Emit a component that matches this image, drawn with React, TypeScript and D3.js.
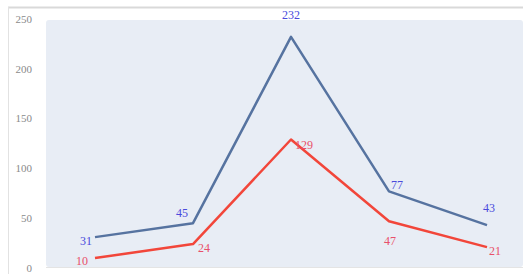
import React from 'react';
import * as d3 from 'd3';

const categories = ['1', '2', '3', '4', '5'];
const blueValues = [31, 45, 232, 77, 43];
const redValues = [10, 24, 129, 47, 21];
const yTicks = [0, 50, 100, 150, 200, 250];

// label offsets relative to each point [dx, dy]
const blueOffsets = [[-9, 4], [-11, -10], [0, -22], [8, -7], [2, -17]];
const redOffsets = [[-13, 3], [11, 4], [13, 5], [1, 20], [8, 4]];

const width = 523;
const height = 274;

export default function App() {
  const x = d3.scalePoint<string>().domain(categories).range([95, 487]);
  const y = d3.scaleLinear().domain([0, 250]).range([268, 19]);

  const line = d3
    .line<number>()
    .x((d, i) => x(categories[i]) as number)
    .y((d) => y(d));

  const series = [
    { values: blueValues, offsets: blueOffsets, stroke: '#5673a0', text: '#4a4adc' },
    { values: redValues, offsets: redOffsets, stroke: '#f2463a', text: '#e8506a' },
  ];

  return (
    <svg
      width={width}
      height={height}
      style={{ position: 'absolute', left: 0, top: 0 }}
      fontFamily="Liberation Serif, Times New Roman, serif"
    >
      <rect x={0} y={0} width={width} height={height} fill="#ffffff" />
      <line x1={8} x2={width} y1={7.5} y2={7.5} stroke="#d9d9d9" strokeWidth={2} />
      <line x1={8.5} x2={8.5} y1={7} y2={height} stroke="#e2e2e2" />
      <rect x={46} y={20} width={width - 46} height={247} rx={3} fill="#e8edf5" />
      <line x1={46} x2={width} y1={267.5} y2={267.5} stroke="#e4e4e4" />

      {yTicks.map((t) => (
        <text
          key={t}
          x={32}
          y={y(t)}
          dy="0.35em"
          textAnchor="end"
          fontSize={11}
          fill="#8a8a8a"
        >
          {t}
        </text>
      ))}

      {series.map((s, si) => (
        <g key={si}>
          <path d={line(s.values) || ''} fill="none" stroke={s.stroke} strokeWidth={2.5} strokeLinejoin="round" />
          {s.values.map((v, i) => (
            <text
              key={i}
              x={(x(categories[i]) as number) + s.offsets[i][0]}
              y={y(v) + s.offsets[i][1]}
              dy="0.35em"
              textAnchor="middle"
              fontSize={12}
              fill={s.text}
            >
              {v}
            </text>
          ))}
        </g>
      ))}
    </svg>
  );
}
